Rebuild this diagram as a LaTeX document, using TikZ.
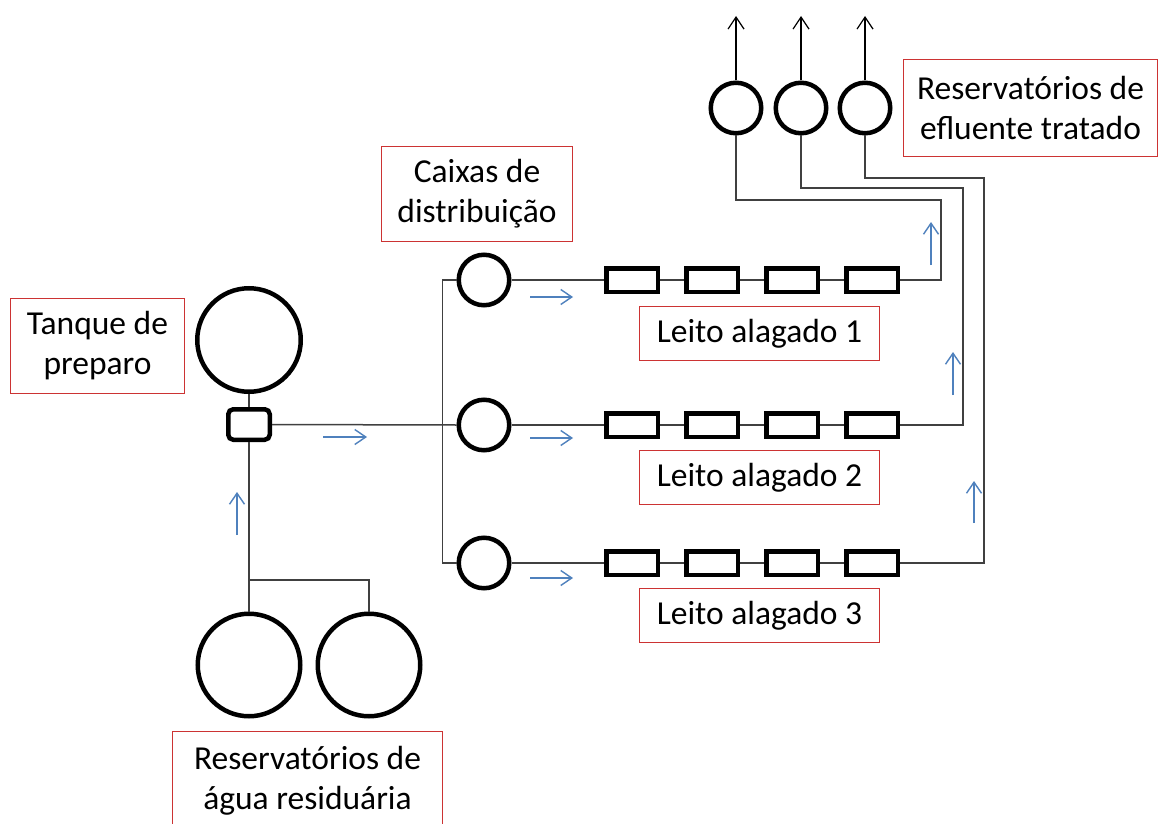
\documentclass[tikz,border=0pt]{standalone}
\usepackage{fontspec}
\setmainfont{Carlito}
\usetikzlibrary{arrows.meta}
\definecolor{pipegray}{RGB}{64,64,64}
\definecolor{flowblue}{RGB}{79,129,189}
\definecolor{labelred}{RGB}{204,51,51}

\begin{document}
\begin{tikzpicture}[x=1pt,y=-1pt,
  vessel/.style={circle,draw=black,line width=4.5pt,minimum size=#1,inner sep=0pt},
  bedbox/.style={rectangle,draw=black,line width=4.5pt,minimum width=51.5pt,minimum height=23.5pt,inner sep=0pt},
  prepbox/.style={rectangle,rounded corners=5pt,draw=black,line width=4.5pt,minimum width=41.5pt,minimum height=30.5pt,inner sep=0pt},
  pipe/.style={draw=pipegray,line width=1.5pt},
  flow/.style={draw=flowblue,line width=1.4pt,-{Straight Barb[length=11pt,width=15pt,line width=1.4pt]}},
  outlet/.style={draw=black,line width=1.2pt,-{Straight Barb[length=12pt,width=16pt,line width=1.2pt]}},
  tag/.style={draw=labelred,line width=1.3pt,align=center,inner sep=0pt,
    font=\fontsize{33.5}{40}\selectfont}
]
\clip (0,0) rectangle (1159,824);
\fill[white] (0,0) rectangle (1159,824);

% --- vessels ---
\node[vessel=103.5pt] (tank) at (249,340) {};
\node[prepbox] (prep) at (249,424.5) {};
\node[vessel=102.5pt] (res1) at (249,665) {};
\node[vessel=102.5pt] (res2) at (369,665) {};
\node[vessel=50.5pt] (dist1) at (484,280) {};
\node[vessel=50.5pt] (dist2) at (484,425) {};
\node[vessel=50.5pt] (dist3) at (484,563) {};
\node[vessel=50.5pt] (eff1) at (736,108) {};
\node[vessel=50.5pt] (eff2) at (801,108) {};
\node[vessel=50.5pt] (eff3) at (865,108) {};

% --- wetland beds: four cells per row ---
\foreach \r/\y in {1/280,2/425,3/563}{
  \foreach \c/\x in {1/632,2/712,3/792,4/872}{
    \node[bedbox] (b\r\c) at (\x,\y) {};
  }
  \draw[pipe] (dist\r.east) -- (b\r1.west);
  \draw[pipe] (b\r1) -- (b\r2);
  \draw[pipe] (b\r2) -- (b\r3);
  \draw[pipe] (b\r3) -- (b\r4);
}

% --- feed lines ---
\coordinate (split) at (249,580);
\coordinate (sky) at (0,16);
\draw[pipe] (tank) -- (prep);
\draw[pipe] (prep) -- (res1);
\draw[pipe] (split) -| (res2.north);
\draw[pipe] (prep.east) -- (dist2.west);
\draw[pipe] (dist1.west) -- ++(-14,0) |- (dist3.west);

% --- return lines to the effluent tanks ---
\draw[pipe] (b14.east) -| (941,200) -| (eff1.south);
\draw[pipe] (b24.east) -| (963,188) -| (eff2.south);
\draw[pipe] (b34.east) -| (984,178) -| (eff3.south);

\draw[outlet] (eff1.north) -- (eff1.north |- sky);
\draw[outlet] (eff2.north) -- (eff2.north |- sky);
\draw[outlet] (eff3.north) -- (eff3.north |- sky);

% --- flow direction ---
\draw[flow] (237,535) -- (237,492);
\draw[flow] (323,437) -- (367,437);
\draw[flow] (530,297) -- (573,297);
\draw[flow] (530,438) -- (573,438);
\draw[flow] (530,578) -- (573,578);
\draw[flow] (931,265) -- (931,222);
\draw[flow] (953,395) -- (953,352);
\draw[flow] (974,523) -- (974,481);

% --- labels ---
\node[tag,minimum width=173.7pt,minimum height=94.7pt] (lblTank) at (97.5,346) {Tanque de\\preparo};
\node[tag,minimum width=190.7pt,minimum height=94.7pt] (lblDist) at (477,194) {Caixas de\\distribuição};
\node[tag,minimum width=239.7pt,minimum height=53.7pt] (lblBed1) at (759.5,333.5) {Leito alagado 1};
\node[tag,minimum width=239.7pt,minimum height=53.7pt] (lblBed2) at (759.5,477.5) {Leito alagado 2};
\node[tag,minimum width=239.7pt,minimum height=53.7pt] (lblBed3) at (759.5,615.5) {Leito alagado 3};
\node[tag,minimum width=253.7pt,minimum height=96.7pt] (lblEff) at (1030.5,108) {Reservatórios de\\efluente tratado};
\node[tag,minimum width=269.7pt,minimum height=98.7pt] (lblRes) at (307.5,781) {Reservatórios de\\água residuária};
\end{tikzpicture}
\end{document}
